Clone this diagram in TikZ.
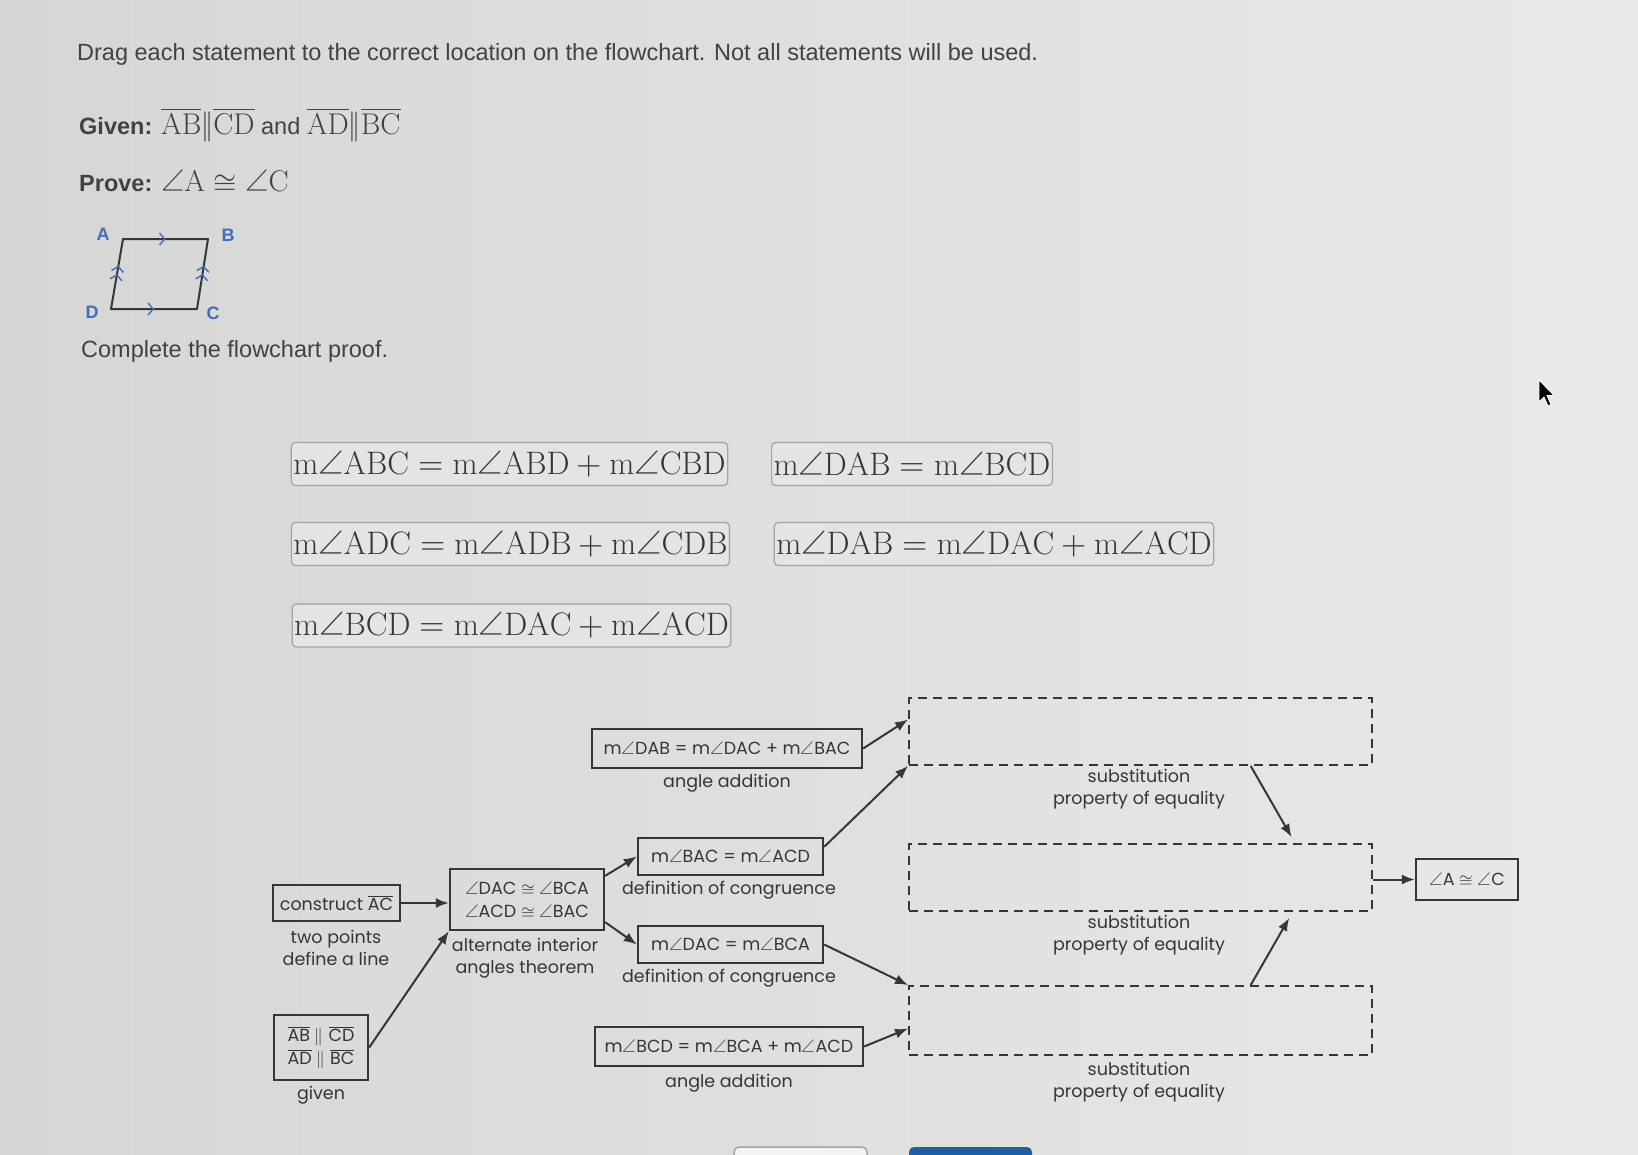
\documentclass[tikz,border=0pt]{standalone}
\usepackage{fontspec}
\usepackage{unicode-math}
\setmathfont{Latin Modern Math}
\newfontfamily\uifont{Liberation Sans}
\newfontfamily\flowfont{Poppins}
\usetikzlibrary{arrows.meta,calc,decorations.markings}
\tikzset{>={Latex[length=13pt,width=10pt]}}

\definecolor{bgleft}{HTML}{D6D6D4}
\definecolor{bgright}{HTML}{E9E9E7}
\definecolor{ink}{HTML}{363636}
\definecolor{hdtext}{HTML}{424242}
\definecolor{tilefill}{HTML}{E4E4E2}
\definecolor{tileline}{HTML}{A3A3A1}
\definecolor{ptblue}{HTML}{3F6DBF}
\definecolor{btnblue}{HTML}{1C5FA8}

\newcommand\hdfont{\uifont\fontsize{23.5}{28}\selectfont}
\newcommand\bigmath{\fontsize{30}{30}\selectfont}
\newcommand\tilefont{\fontsize{32.5}{38}\selectfont}
\newcommand\flfont{\flowfont\fontsize{17.5}{22}\selectfont}

\begin{document}
\begin{tikzpicture}[x=1pt,y=-1pt,
    stmt/.style={draw=tileline, fill=tilefill, rounded corners=4pt, line width=1.2pt,
        inner xsep=2pt, inner ysep=0pt, minimum height=43pt, font=\tilefont, text=ink},
    fbox/.style={draw=ink, line width=2.3pt, inner sep=0pt, font=\flfont, text=ink, align=center},
    slot/.style={draw=ink, line width=1.8pt, dash pattern=on 9pt off 6pt,
        minimum width=463pt, inner sep=0pt},
    why/.style={font=\flfont, text=ink, align=center},
    link/.style={->, draw=ink, line width=2pt},
    tickone/.style={postaction={decorate}, decoration={markings,
        mark=at position 0.5 with {\arrow[ptblue, line width=1.4pt]{Straight Barb[length=5pt,width=12pt]}}}},
    ticktwo/.style={postaction={decorate}, decoration={markings,
        mark=at position 0.5 with {\arrow[ptblue, line width=1.4pt]{Straight Barb[length=5pt,width=12pt]}},
        mark=at position 0.62 with {\arrow[ptblue, line width=1.4pt]{Straight Barb[length=5pt,width=12pt]}}}},
]
    % page
    \useasboundingbox (0,0) rectangle (1638,1154);
    \shade[left color=bgleft, right color=bgright] (0,0) rectangle (1638,1154);

    % question text
    \node[anchor=west, font=\hdfont, text=hdtext, inner sep=0pt] (task) at (77,54)
        {Drag each statement to the correct location on the flowchart. Not all statements will be used.};
    \node[anchor=west, font=\hdfont, text=hdtext, inner sep=0pt] (given) at (79,125)
        {\textbf{Given:} {\bigmath$\overline{\mathrm{AB}}\|\overline{\mathrm{CD}}$} and {\bigmath$\overline{\mathrm{AD}}\|\overline{\mathrm{BC}}$}};
    \node[anchor=west, font=\hdfont, text=hdtext, inner sep=0pt] (prove) at (79,181)
        {\textbf{Prove:} {\bigmath$\angle\mathrm{A}\cong\angle\mathrm{C}$}};

    % parallelogram ABCD
    \coordinate (pA) at (123,239);
    \coordinate (pB) at (208,239);
    \coordinate (pC) at (197,309);
    \coordinate (pD) at (111,309);
    \draw[ink, line width=2pt, line join=round] (pA) -- (pB) -- (pC) -- (pD) -- cycle;
    \path[tickone] (pA) -- (pB);
    \path[tickone] (pD) -- (pC);
    \path[ticktwo] (pD) -- (pA);
    \path[ticktwo] (pC) -- (pB);
    \begin{scope}[font=\uifont\bfseries\fontsize{18}{20}\selectfont, text=ptblue]
        \node (lA) at (103,234) {A};
        \node (lB) at (228,235) {B};
        \node (lD) at (92,312) {D};
        \node (lC) at (213,313) {C};
    \end{scope}
    \node[anchor=west, font=\hdfont, text=hdtext, inner sep=0pt] (todo) at (81,351)
        {Complete the flowchart proof.};

    % statements to drag
    \node[stmt] (t1) at (509.5,464) {$\mathrm{m}\angle\mathrm{ABC}=\mathrm{m}\angle\mathrm{ABD}+\mathrm{m}\angle\mathrm{CBD}$};
    \node[stmt] (t2) at (912,464) {$\mathrm{m}\angle\mathrm{DAB}=\mathrm{m}\angle\mathrm{BCD}$};
    \node[stmt] (t3) at (510.5,544) {$\mathrm{m}\angle\mathrm{ADC}=\mathrm{m}\angle\mathrm{ADB}+\mathrm{m}\angle\mathrm{CDB}$};
    \node[stmt] (t4) at (994,544) {$\mathrm{m}\angle\mathrm{DAB}=\mathrm{m}\angle\mathrm{DAC}+\mathrm{m}\angle\mathrm{ACD}$};
    \node[stmt] (t5) at (511.5,625.5) {$\mathrm{m}\angle\mathrm{BCD}=\mathrm{m}\angle\mathrm{DAC}+\mathrm{m}\angle\mathrm{ACD}$};

    % flowchart boxes
    \node[fbox, minimum width=127pt, minimum height=36pt] (cons) at (336.5,903)
        {construct $\overline{\hbox{AC}}$};
    \node[fbox, minimum width=94pt, minimum height=65pt] (giv) at (321,1047.5)
        {$\overline{\hbox{AB}}\parallel\overline{\hbox{CD}}$\\[1pt]$\overline{\hbox{AD}}\parallel\overline{\hbox{BC}}$};
    \node[fbox, minimum width=154pt, minimum height=61pt] (alt) at (527,899.5)
        {$\angle$DAC $\cong$ $\angle$BCA\\[1pt]$\angle$ACD $\cong$ $\angle$BAC};
    \node[fbox, minimum width=270pt, minimum height=39pt] (dab) at (727,748.5)
        {m$\angle$DAB = m$\angle$DAC + m$\angle$BAC};
    \node[fbox, minimum width=185pt, minimum height=37pt] (bac) at (730.5,856.5)
        {m$\angle$BAC = m$\angle$ACD};
    \node[fbox, minimum width=185pt, minimum height=37pt] (dac) at (730.5,944.5)
        {m$\angle$DAC = m$\angle$BCA};
    \node[fbox, minimum width=268pt, minimum height=39pt] (bcd) at (729,1046.5)
        {m$\angle$BCD = m$\angle$BCA + m$\angle$ACD};
    \node[fbox, minimum width=102pt, minimum height=41pt] (fin) at (1467,879.5)
        {$\angle$A $\cong$ $\angle$C};

    % empty slots
    \node[slot, minimum height=67pt] (s1) at (1140.5,731.5) {};
    \node[slot, minimum height=67pt] (s2) at (1140.5,877.5) {};
    \node[slot, minimum height=69pt] (s3) at (1140.5,1020.5) {};

    % reasons
    \node[why] (whycons) at (336,948) {two points\\define a line};
    \node[why] (whygiv) at (321,1095) {given};
    \node[why] (whyalt) at (525,958) {alternate interior\\angles theorem};
    \node[why] (whydab) at (727,783) {angle addition};
    \node[why] (whybac) at (729,890) {definition of congruence};
    \node[why] (whydac) at (729,978) {definition of congruence};
    \node[why] (whybcd) at (729,1083) {angle addition};
    \node[why] (whys1) at (1139,789) {substitution\\property of equality};
    \node[why] (whys2) at (1139,935) {substitution\\property of equality};
    \node[why] (whys3) at (1139,1082) {substitution\\property of equality};

    % connectors
    \draw[link] (cons.east) -- (alt.west |- cons.east);
    \draw[link] (giv.east) -- (alt.south west);
    \draw[link] ([yshift=-8pt]alt.north east) -- (bac.west);
    \draw[link] ([yshift=9pt]alt.south east) -- (dac.west);
    \draw[link] (dab.east) -- ([yshift=12pt]s1.west);
    \draw[link] ([yshift=-10pt]bac.north east) -- (s1.south west);
    \draw[link] (dac.east) -- (s3.north west);
    \draw[link] (bcd.east) -- ([yshift=-8pt]s3.west);
    \draw[link] ($(s1.south west)!0.737!(s1.south east)$) -- ([yshift=6pt]$(s2.north west)!0.825!(s2.north east)$);
    \draw[link] ($(s3.north west)!0.737!(s3.north east)$) -- ([yshift=-6pt]$(s2.south west)!0.82!(s2.south east)$);
    \draw[link] (s2.east |- fin.west) -- (fin.west);

    % buttons cut off at the bottom, and the pointer
    \draw[tileline, fill=white!55!tilefill, rounded corners=5pt, line width=1.5pt] (734,1147) rectangle (867,1180);
    \fill[btnblue, rounded corners=5pt] (909,1147) rectangle (1032,1180);
    \filldraw[fill=black, draw=white, line width=0.8pt] (1539,380) -- ++(0,22) -- ++(5,-5) -- ++(4,9)
        -- ++(3,-1.5) -- ++(-4,-9) -- ++(7,0) -- cycle;
\end{tikzpicture}
\end{document}
